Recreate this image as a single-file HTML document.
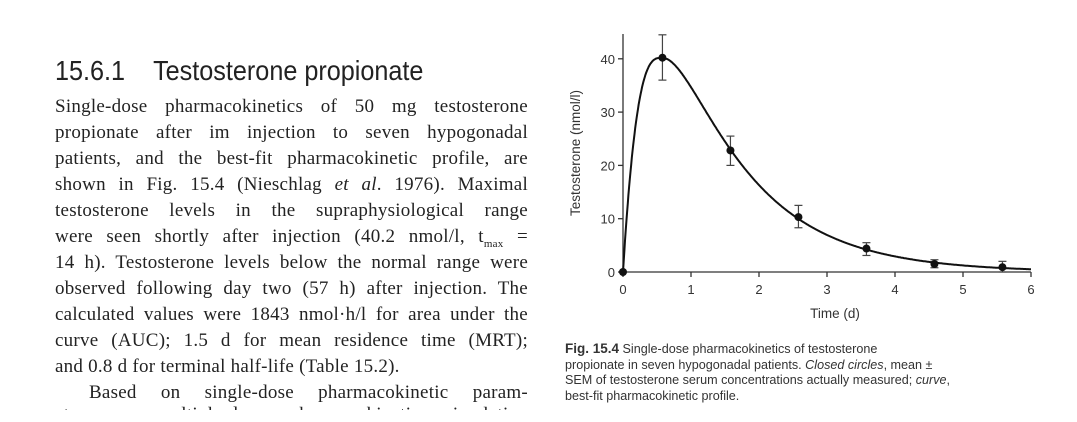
<!DOCTYPE html>
<html><head><meta charset="utf-8"><style>
body{margin:0;width:1077px;height:422px;background:#fff;overflow:hidden;position:relative}
.h{position:absolute;left:55px;top:55px;font-family:"Liberation Sans Narrow","Liberation Sans",sans-serif;font-size:28px;color:#222;transform:scaleX(0.9);transform-origin:left;white-space:nowrap}
.b{position:absolute;left:55px;top:94px;width:473px;font-family:"Liberation Serif",serif;font-size:19px;letter-spacing:0.25px;line-height:26px;color:#222}
.b div{white-space:nowrap;text-align:justify;text-align-last:justify;height:26px}
.cap{position:absolute;left:565px;top:341px;width:480px;font-family:"Liberation Sans",sans-serif;font-size:12.6px;line-height:15.5px;color:#333}
</style></head><body>
<div class="h">15.6.1&nbsp;&nbsp;&nbsp;&nbsp;Testosterone propionate</div>
<div class="b">
<div>Single-dose pharmacokinetics of 50 mg testosterone</div>
<div>propionate after im injection to seven hypogonadal</div>
<div>patients, and the best-fit pharmacokinetic profile, are</div>
<div>shown in Fig. 15.4 (Nieschlag <i>et al</i>. 1976). Maximal</div>
<div>testosterone levels in the supraphysiological range</div>
<div>were seen shortly after injection (40.2 nmol/l, t<sub style="font-size:11px">max</sub> =</div>
<div>14 h). Testosterone levels below the normal range were</div>
<div>observed following day two (57 h) after injection. The</div>
<div>calculated values were 1843 nmol·h/l for area under the</div>
<div>curve (AUC); 1.5 d for mean residence time (MRT);</div>
<div style="text-align-last:left">and 0.8 d for terminal half-life (Table 15.2).</div>
<div style="padding-left:34px">Based on single-dose pharmacokinetic param-</div>
<div style="height:8px;overflow:hidden;line-height:26px;margin-top:-4px">eters, a multiple-dose pharmacokinetic simulation</div>
</div>
<svg style="position:absolute;left:0;top:0" width="1077" height="422" font-family="Liberation Sans, sans-serif" font-size="13" fill="#333">
<g stroke="#333" stroke-width="1.3" fill="none">
<line x1="623" y1="34" x2="623" y2="273"/>
<line x1="623" y1="272" x2="1031" y2="272"/>
<g id="yt"></g><g id="xt"></g>
<path id="cv" stroke="#111" stroke-width="2"/>
<g id="eb" stroke="#444" stroke-width="1.2"></g>
</g>
<g id="pts" fill="#111"></g>
<g id="lbl"></g>
<text x="835" y="318" text-anchor="middle" font-size="13.5">Time (d)</text>
<text transform="translate(580,153) rotate(-90)" text-anchor="middle" font-size="13.5">Testosterone (nmol/l)</text>
</svg>
<div class="cap"><b style="font-size:13.5px">Fig. 15.4</b> Single-dose pharmacokinetics of testosterone<br>propionate in seven hypogonadal patients. <i>Closed circles</i>, mean ±<br>SEM of testosterone serum concentrations actually measured; <i>curve</i>,<br>best-fit pharmacokinetic profile.</div>
<script>
var X=t=>623+t*68,Y=v=>272-v*5.33,ns="http://www.w3.org/2000/svg";
function el(p,n,a,txt){var e=document.createElementNS(ns,n);for(var k in a)e.setAttribute(k,a[k]);if(txt!=null)e.textContent=txt;document.getElementById(p).appendChild(e);}
for(var v=0;v<=40;v+=10){el("yt","line",{x1:618,x2:623,y1:Y(v),y2:Y(v)});el("lbl","text",{x:615,y:Y(v)+5,"text-anchor":"end"},v);}
for(var t=0;t<=6;t++){el("xt","line",{x1:X(t),x2:X(t),y1:272,y2:277});el("lbl","text",{x:X(t),y:294,"text-anchor":"middle"},t);}
var d="";for(var i=0;i<=600;i++){var t=i*0.01;var c;
if(t<0.58){var s=t/0.58;c=40.2*(1-Math.pow(1-s,3));}else c=93.5*(Math.exp(-0.866*t)-Math.exp(-3*t));
d+=(i?"L":"M")+X(t).toFixed(1)+","+Y(c).toFixed(1);}
document.getElementById("cv").setAttribute("d",d);
[[0,0,0,0],[0.58,40.2,36,44.5],[1.58,22.8,20,25.5],[2.58,10.3,8.3,12.5],[3.58,4.4,3.1,5.5],[4.58,1.5,0.8,2.3],[5.58,0.9,0,2]].forEach(function(p){
if(p[3]>p[2]){el("eb","line",{x1:X(p[0]),x2:X(p[0]),y1:Y(p[2]),y2:Y(p[3])});el("eb","line",{x1:X(p[0])-4,x2:X(p[0])+4,y1:Y(p[2]),y2:Y(p[2])});el("eb","line",{x1:X(p[0])-4,x2:X(p[0])+4,y1:Y(p[3]),y2:Y(p[3])});}
el("pts","circle",{cx:X(p[0]),cy:Y(p[1]),r:4});});
</script>
</body></html>
